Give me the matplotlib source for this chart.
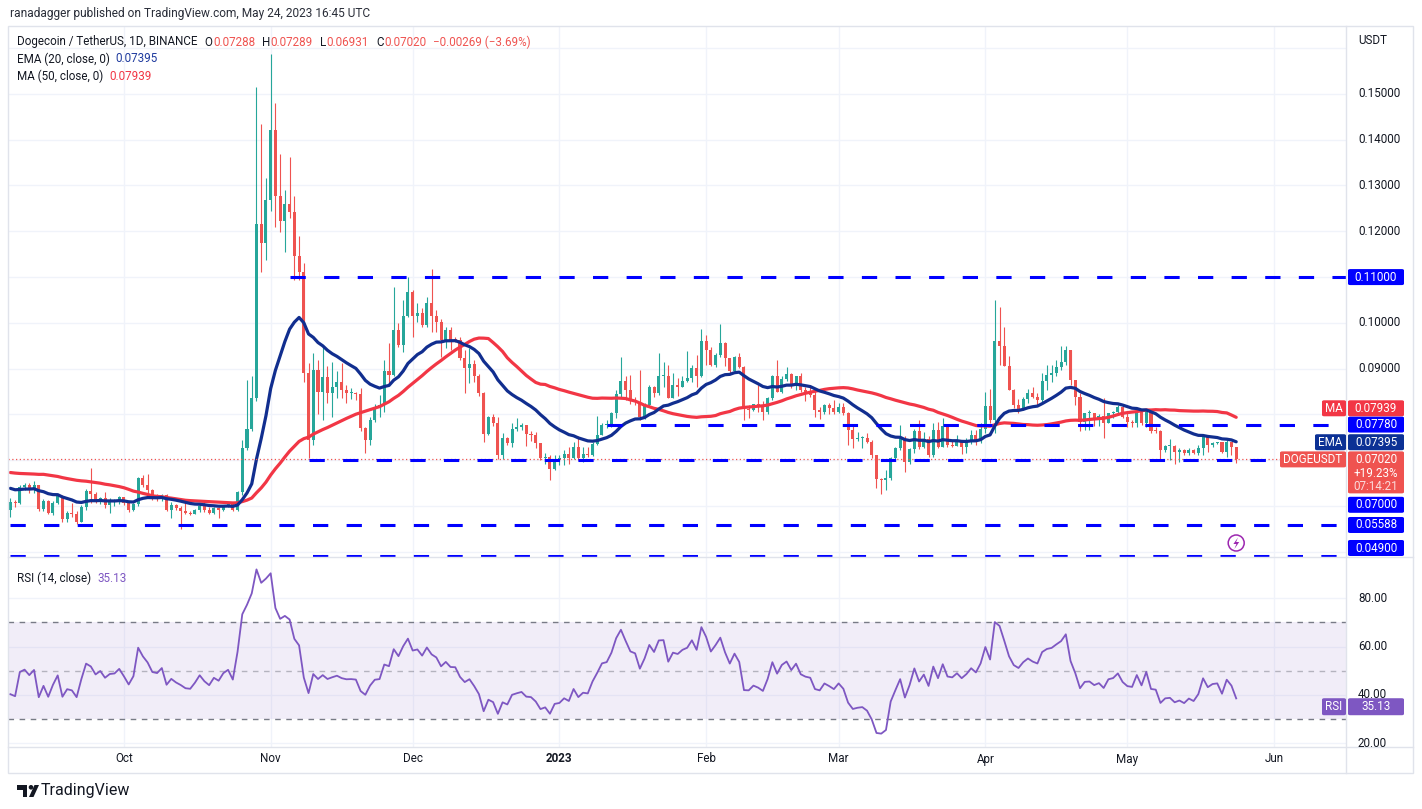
import numpy as np
import pandas as pd
import matplotlib
matplotlib.use("Agg")
import matplotlib.pyplot as plt
from matplotlib.patches import Rectangle, FancyBboxPatch, Circle, Ellipse, Polygon

# ---------------- data ----------------
warmup_start = "2022-07-19"   # history needed for EMA20 / MA50 / RSI14
warmup_close = [
    0.0637, 0.0666, 0.0683, 0.0666, 0.0660, 0.0667, 0.0627, 0.0608, 0.0663, 0.0692, 0.0693, 0.0698, 0.0689,
    0.0672, 0.0664, 0.0660, 0.0673, 0.0697, 0.0685, 0.0689, 0.0711, 0.0682, 0.0711, 0.0710, 0.0732, 0.0764,
    0.0798, 0.0765, 0.0786, 0.0754, 0.0766, 0.0680, 0.0663, 0.0674, 0.0667, 0.0674, 0.0665, 0.0665, 0.0623,
    0.0616, 0.0614, 0.0637, 0.0614, 0.0624,
    0.0626, 0.0623, 0.0621, 0.0627, 0.0619, 0.0592,
]

first_date = "2022-09-07"
close = [
    # Sep 7-30
    0.0610, 0.0606, 0.0642, 0.0646, 0.0637, 0.0645, 0.0593, 0.0611, 0.0586, 0.0606, 0.0623, 0.0572,
    0.0586, 0.0583, 0.0566, 0.0599, 0.0633, 0.0627, 0.0610, 0.0617, 0.0603, 0.0610, 0.0611, 0.0619,
    # Oct
    0.0606, 0.0591, 0.0604, 0.0661, 0.0646, 0.0635, 0.0617, 0.0615, 0.0624, 0.0592, 0.0602, 0.0595,
    0.0590, 0.0584, 0.0583, 0.0591, 0.0601, 0.0592, 0.0586, 0.0595, 0.0591, 0.0600, 0.0604, 0.0592,
    0.0630, 0.0726, 0.0768, 0.0837, 0.1216, 0.1175, 0.1268,
    # Nov
    0.1421, 0.1276, 0.1223, 0.1260, 0.1243, 0.1146, 0.1110, 0.0890, 0.0744, 0.0897, 0.0850, 0.0882,
    0.0848, 0.0861, 0.0872, 0.0854, 0.0846, 0.0847, 0.0844, 0.0770, 0.0744, 0.0788, 0.0817, 0.0820,
    0.0894, 0.0886, 0.0984, 0.0952, 0.1015, 0.1068,
    # Dec
    0.1015, 0.1022, 0.0995, 0.1043, 0.1014, 0.1001, 0.0963, 0.0984, 0.0963, 0.0962, 0.0923, 0.0901,
    0.0911, 0.0883, 0.0848, 0.0757, 0.0794, 0.0781, 0.0712, 0.0749, 0.0737, 0.0768, 0.0773, 0.0777,
    0.0757, 0.0755, 0.0737, 0.0704, 0.0708, 0.0680, 0.0702,
    # Jan
    0.0704, 0.0714, 0.0705, 0.0730, 0.0705, 0.0714, 0.0712, 0.0736, 0.0755, 0.0777, 0.0780, 0.0803,
    0.0845, 0.0874, 0.0853, 0.0832, 0.0828, 0.0795, 0.0821, 0.0861, 0.0846, 0.0883, 0.0884, 0.0837,
    0.0864, 0.0861, 0.0873, 0.0879, 0.0901, 0.0883, 0.0961,
    # Feb
    0.0941, 0.0908, 0.0930, 0.0957, 0.0923, 0.0894, 0.0926, 0.0904, 0.0811, 0.0810, 0.0823, 0.0816,
    0.0805, 0.0835, 0.0884, 0.0850, 0.0877, 0.0888, 0.0864, 0.0883, 0.0853, 0.0846, 0.0843, 0.0810,
    0.0806, 0.0821, 0.0814, 0.0806,
    # Mar
    0.0817, 0.0804, 0.0766, 0.0746, 0.0748, 0.0749, 0.0739, 0.0712, 0.0659, 0.0656, 0.0661, 0.0705,
    0.0726, 0.0748, 0.0697, 0.0724, 0.0765, 0.0728, 0.0746, 0.0712, 0.0766, 0.0730, 0.0774, 0.0734,
    0.0731, 0.0743, 0.0728, 0.0739, 0.0755, 0.0744, 0.0768,
    # Apr
    0.0819, 0.0788, 0.0961, 0.0950, 0.0906, 0.0854, 0.0821, 0.0810, 0.0833, 0.0848, 0.0838, 0.0832,
    0.0874, 0.0886, 0.0890, 0.0903, 0.0915, 0.0941, 0.0875, 0.0838, 0.0784, 0.0803, 0.0804, 0.0792,
    0.0797, 0.0782, 0.0803, 0.0806, 0.0817, 0.0795,
    # May 1-24
    0.0784, 0.0782, 0.0806, 0.0781, 0.0810, 0.0765, 0.0763, 0.0722, 0.0731, 0.0732, 0.0719, 0.0722,
    0.0715, 0.0722, 0.0716, 0.0726, 0.0751, 0.0733, 0.0738, 0.0739, 0.0719, 0.0740, 0.07288, 0.07020,
]
high = [
    0.0617, 0.0613, 0.0646, 0.0650, 0.0650, 0.0655, 0.0647, 0.0615, 0.0613, 0.0612, 0.0626, 0.0625,
    0.0590, 0.0607, 0.0590, 0.0603, 0.0637, 0.0684, 0.0630, 0.0620, 0.0630, 0.0617, 0.0615, 0.0622,
    0.0620, 0.0607, 0.0607, 0.0664, 0.0668, 0.0670, 0.0637, 0.0626, 0.0626, 0.0626, 0.0609, 0.0604,
    0.0600, 0.0613, 0.0590, 0.0593, 0.0604, 0.0608, 0.0597, 0.0598, 0.0597, 0.0602, 0.0608, 0.0607,
    0.0633, 0.0744, 0.0875, 0.0883, 0.1514, 0.1434, 0.1317,
    0.1588, 0.1481, 0.1369, 0.1290, 0.1362, 0.1277, 0.1189, 0.1130, 0.0912, 0.0934, 0.0918, 0.0952,
    0.0905, 0.0915, 0.0895, 0.0912, 0.0865, 0.0857, 0.0850, 0.0857, 0.0773, 0.0795, 0.0824, 0.0843,
    0.0919, 0.0955, 0.1079, 0.0999, 0.1050, 0.1101,
    0.1072, 0.1043, 0.1032, 0.1057, 0.1117, 0.1028, 0.1008, 0.0992, 0.0992, 0.0970, 0.0970, 0.0941,
    0.0945, 0.0920, 0.0888, 0.0850, 0.0796, 0.0801, 0.0795, 0.0759, 0.0751, 0.0781, 0.0792, 0.0781,
    0.0777, 0.0763, 0.0761, 0.0738, 0.0717, 0.0711, 0.0712,
    0.0712, 0.0723, 0.0728, 0.0741, 0.0752, 0.0730, 0.0730, 0.0741, 0.0797, 0.0781, 0.0788, 0.0806,
    0.0853, 0.0926, 0.0883, 0.0886, 0.0839, 0.0897, 0.0825, 0.0865, 0.0862, 0.0934, 0.0915, 0.0908,
    0.0890, 0.0879, 0.0883, 0.0939, 0.0908, 0.0930, 0.0987,
    0.0974, 0.0948, 0.0934, 0.0998, 0.0959, 0.0919, 0.0928, 0.0934, 0.0905, 0.0821, 0.0824, 0.0865,
    0.0830, 0.0839, 0.0886, 0.0919, 0.0883, 0.0903, 0.0890, 0.0885, 0.0890, 0.0861, 0.0865, 0.0854,
    0.0817, 0.0823, 0.0825, 0.0832,
    0.0825, 0.0825, 0.0806, 0.0775, 0.0762, 0.0752, 0.0759, 0.0744, 0.0712, 0.0661, 0.0679, 0.0708,
    0.0730, 0.0777, 0.0752, 0.0726, 0.0768, 0.0788, 0.0762, 0.0752, 0.0781, 0.0784, 0.0792, 0.0777,
    0.0745, 0.0755, 0.0744, 0.0748, 0.0766, 0.0766, 0.0781,
    0.0850, 0.0855, 0.1050, 0.1035, 0.0992, 0.0928, 0.0855, 0.0834, 0.0839, 0.0855, 0.0861, 0.0846,
    0.0890, 0.0908, 0.0908, 0.0918, 0.0950, 0.0950, 0.0941, 0.0876, 0.0846, 0.0804, 0.0810, 0.0803,
    0.0800, 0.0835, 0.0804, 0.0808, 0.0821, 0.0820,
    0.0803, 0.0789, 0.0810, 0.0810, 0.0813, 0.0810, 0.0773, 0.0766, 0.0733, 0.0746, 0.0733, 0.0726,
    0.0724, 0.0726, 0.0724, 0.0733, 0.0755, 0.0752, 0.0741, 0.0741, 0.0740, 0.0744, 0.0741, 0.07289,
]
low = [
    0.0577, 0.0599, 0.0604, 0.0636, 0.0628, 0.0628, 0.0590, 0.0590, 0.0583, 0.0580, 0.0604, 0.0566,
    0.0566, 0.0577, 0.0562, 0.0566, 0.0592, 0.0606, 0.0606, 0.0605, 0.0595, 0.0586, 0.0600, 0.0605,
    0.0602, 0.0588, 0.0590, 0.0600, 0.0642, 0.0624, 0.0613, 0.0612, 0.0612, 0.0590, 0.0573, 0.0592,
    0.0551, 0.0582, 0.0581, 0.0582, 0.0588, 0.0588, 0.0583, 0.0583, 0.0573, 0.0590, 0.0598, 0.0589,
    0.0590, 0.0625, 0.0722, 0.0765, 0.0830, 0.1112, 0.1137,
    0.1245, 0.1210, 0.1199, 0.1155, 0.1230, 0.1094, 0.1094, 0.0870, 0.0706, 0.0734, 0.0800, 0.0788,
    0.0825, 0.0794, 0.0835, 0.0835, 0.0825, 0.0833, 0.0831, 0.0765, 0.0715, 0.0733, 0.0784, 0.0795,
    0.0806, 0.0865, 0.0883, 0.0948, 0.0937, 0.1013,
    0.0970, 0.1003, 0.0991, 0.0992, 0.0981, 0.0981, 0.0926, 0.0945, 0.0941, 0.0958, 0.0919, 0.0846,
    0.0868, 0.0872, 0.0840, 0.0741, 0.0755, 0.0774, 0.0702, 0.0703, 0.0734, 0.0730, 0.0763, 0.0766,
    0.0731, 0.0743, 0.0726, 0.0701, 0.0692, 0.0658, 0.0679,
    0.0690, 0.0690, 0.0693, 0.0702, 0.0701, 0.0697, 0.0708, 0.0710, 0.0734, 0.0755, 0.0770, 0.0773,
    0.0792, 0.0838, 0.0832, 0.0824, 0.0821, 0.0788, 0.0791, 0.0817, 0.0838, 0.0843, 0.0861, 0.0835,
    0.0835, 0.0840, 0.0859, 0.0870, 0.0872, 0.0861, 0.0882,
    0.0908, 0.0905, 0.0904, 0.0926, 0.0905, 0.0889, 0.0890, 0.0901, 0.0789, 0.0792, 0.0807, 0.0806,
    0.0788, 0.0802, 0.0831, 0.0850, 0.0847, 0.0874, 0.0857, 0.0854, 0.0850, 0.0830, 0.0839, 0.0795,
    0.0790, 0.0801, 0.0800, 0.0800,
    0.0803, 0.0799, 0.0734, 0.0726, 0.0743, 0.0726, 0.0737, 0.0704, 0.0639, 0.0627, 0.0635, 0.0657,
    0.0701, 0.0723, 0.0675, 0.0693, 0.0715, 0.0724, 0.0726, 0.0708, 0.0708, 0.0726, 0.0730, 0.0730,
    0.0728, 0.0734, 0.0714, 0.0715, 0.0736, 0.0734, 0.0737,
    0.0760, 0.0781, 0.0759, 0.0908, 0.0905, 0.0854, 0.0814, 0.0804, 0.0810, 0.0825, 0.0835, 0.0821,
    0.0828, 0.0854, 0.0872, 0.0883, 0.0897, 0.0908, 0.0865, 0.0821, 0.0763, 0.0766, 0.0766, 0.0774,
    0.0774, 0.0748, 0.0785, 0.0792, 0.0798, 0.0792,
    0.0773, 0.0773, 0.0772, 0.0777, 0.0773, 0.0759, 0.0759, 0.0701, 0.0719, 0.0700, 0.0693, 0.0697,
    0.0712, 0.0712, 0.0713, 0.0712, 0.0712, 0.0719, 0.0730, 0.0735, 0.0715, 0.0708, 0.0712, 0.06931,
]

# horizontal levels drawn by the author
level_values = [0.11, 0.0778, 0.07, 0.05588, 0.049]
level_starts = ["2022-11-05", "2023-01-11", "2022-11-09", "2022-09-07", "2022-09-07"]
level_labels = ["0.11000", "0.07780", "0.07000", "0.05588", "0.04900"]

month_ticks = ["2022-10-01", "2022-11-01", "2022-12-01", "2023-01-01", "2023-02-01",
               "2023-03-01", "2023-04-01", "2023-05-01", "2023-06-01"]
month_labels = ["Oct", "Nov", "Dec", "2023", "Feb", "Mar", "Apr", "May", "Jun"]

price_tick_values = [0.09, 0.10, 0.12, 0.13, 0.14, 0.15]
rsi_tick_values = [80, 60, 40, 20]

last_ema_text, last_ma_text, last_rsi_text = "0.07395", "0.07939", "35.13"
ohlc_text = [("O", "0.07288"), ("H", "0.07289"), ("L", "0.06931"), ("C", "0.07020")]
change_text = "\u22120.00269 (\u22123.69%)"

# ---------------- computations ----------------
allc = np.array(warmup_close + close)
nw = len(warmup_close)
opens_all = np.r_[allc[0], allc[:-1]]
o = opens_all[nw:]
c = np.array(close)
h = np.maximum(np.array(high), np.maximum(o, c))
l = np.minimum(np.array(low), np.minimum(o, c))
n = len(c)
d0 = pd.Timestamp(first_date)
xs = np.arange(n)

ema = pd.Series(allc).ewm(span=20, adjust=False).mean().values[nw:]
ma = pd.Series(allc).rolling(50, min_periods=1).mean().values[nw:]
dlt = np.diff(allc, prepend=allc[0])
gain = pd.Series(np.clip(dlt, 0, None)).ewm(alpha=1 / 14, adjust=False).mean()
loss = pd.Series(np.clip(-dlt, 0, None)).ewm(alpha=1 / 14, adjust=False).mean()
rsi = (100 - 100 / (1 + gain / loss)).values[nw:]

def didx(s):
    return (pd.Timestamp(s) - d0).days

# ---------------- figure ----------------
W, H = 1422, 809
plt.rcParams['font.family'] = ['Roboto', 'DejaVu Sans']
fig = plt.figure(figsize=(W / 100, H / 100), dpi=100)
fig.patch.set_facecolor("white")
R = fig.canvas.get_renderer()

def rect(x0, y0, x1, y1):
    return [x0 / W, 1 - y1 / H, (x1 - x0) / W, (y1 - y0) / H]

PL, PR = 8, 1346
PT, PB = 26, 556.5
RT, RB = 556.5, 747
BOT = 773

ax = fig.add_axes(rect(PL, PT, PR, PB))
axr = fig.add_axes(rect(PL, RT, PR, RB))
for a in (ax, axr):
    a.set_xlim(-0.5, 282.2)
    for sp in a.spines.values():
        sp.set_visible(False)
    a.set_xticks([]); a.set_yticks([])
    a.patch.set_alpha(0)
ax.set_ylim(0.0490, 0.16481)
axr.set_ylim(18.47, 97.27)

GRID = "#f0f3fa"
for v in np.arange(0.05, 0.1651, 0.01):
    ax.axhline(v, color=GRID, lw=1, zorder=0)
for v in rsi_tick_values:
    axr.axhline(v, color=GRID, lw=1, zorder=0)
for m in month_ticks:
    ax.axvline(didx(m), color=GRID, lw=1, zorder=0)
    axr.axvline(didx(m), color=GRID, lw=1, zorder=0)

# candles
UP, DN = "#26a69a", "#ef5350"
col = np.where(c >= o, UP, DN)
ax.vlines(xs, l, h, colors=col, lw=0.8, zorder=3)
ax.bar(xs, np.maximum(np.abs(c - o), 0.00022), bottom=np.minimum(o, c), width=0.64,
       color=col, linewidth=0, zorder=3)

# moving averages
EMA_C, MA_C = "#112e8f", "#f23645"
ax.plot(xs, ma, color=MA_C, lw=2.3, zorder=4, solid_capstyle="round")
ax.plot(xs, ema, color=EMA_C, lw=2.3, zorder=4, solid_capstyle="round")

# current price dotted line
ax.axhline(c[-1], color=DN, lw=0.9, ls=(0, (1, 2)), zorder=5)

# author's levels
LVL = "#0000ff"
for v, s in zip(level_values, level_starts):
    ax.hlines(v, didx(s), 282.2, color=LVL, lw=2.2, linestyles=(0, (5, 6)), zorder=6)

# RSI pane
RSI_C = "#7e57c2"
axr.axhspan(30, 70, color=RSI_C, alpha=0.1, lw=0, zorder=0)
axr.axhline(70, color="#787b86", lw=1, ls=(0, (4, 4)), zorder=1)
axr.axhline(30, color="#787b86", lw=1, ls=(0, (4, 4)), zorder=1)
axr.axhline(50, color="#787b86", alpha=0.5, lw=1, ls=(0, (4, 4)), zorder=1)
axr.plot(xs, rsi, color=RSI_C, lw=1.3, zorder=3)

# ---------------- frame ----------------
BORDER = "#e0e3eb"
fig.patches.append(Rectangle((PL / W, 1 - BOT / H), (1413 - PL) / W, (BOT - PT) / H, fill=False,
                             ec=BORDER, lw=1, transform=fig.transFigure, zorder=2))
fig.lines.append(plt.Line2D([PR / W, PR / W], [1 - PT / H, 1 - BOT / H], color=BORDER, lw=1,
                            transform=fig.transFigure))
for yy in (PB, RB):
    fig.lines.append(plt.Line2D([PL / W, 1413 / W], [1 - yy / H, 1 - yy / H], color=BORDER, lw=1,
                                transform=fig.transFigure))

# ---------------- helpers ----------------
TXT = "#131722"

def twidth(s, fs, weight="normal"):
    t = fig.text(0, 0, s, fontsize=fs, weight=weight)
    w = t.get_window_extent(R).width
    t.remove()
    return w

def fit_fs(s, width_px, weight="normal"):
    return 10 * width_px / twidth(s, 10, weight)

def put(xp, yp, s, fs, color=TXT, ha="left", weight="normal", z=7):
    return fig.text(xp / W, 1 - yp / H, s, fontsize=fs, color=color, ha=ha, va="center",
                    weight=weight, zorder=z)

def seq(xp, yp, pieces, fs):
    for s, colr, gap in pieces:
        t = put(xp, yp, s, fs, colr)
        xp += t.get_window_extent(R).width + gap
    return xp

def box(x0, x1, yc, hh, color, z=6):
    fig.patches.append(FancyBboxPatch((x0 / W, 1 - (yc + hh / 2) / H), (x1 - x0) / W, hh / H,
                                      boxstyle="round,pad=0,rounding_size=0.0016",
                                      transform=fig.transFigure, fc=color, ec="none", zorder=z))

def py(a, v):
    return H - a.transData.transform((0, v))[1]

def px(a, xv):
    return a.transData.transform((xv, 0))[0]

# ---------------- header / legends ----------------
fs_head = fit_fs("ranadagger published on TradingView.com, May 24, 2023 16:45 UTC", 362)
put(10, 14, "ranadagger published on TradingView.com, May 24, 2023 16:45 UTC", fs_head, "#2a2e39")

fs_leg = fit_fs("Dogecoin / TetherUS, 1D, BINANCE", 181)
pieces = [("Dogecoin / TetherUS, 1D, BINANCE", TXT, 7)]
for k, v in ohlc_text:
    pieces += [(k, TXT, 0.5), (v, DN, 7)]
pieces += [(change_text, DN, 0)]
seq(17, 42, pieces, fs_leg)
seq(17, 59, [("EMA (20, close, 0)", TXT, 6), (last_ema_text, "#1e3a9e", 0)], fs_leg)
seq(17, 76, [("MA (50, close, 0)", TXT, 6), (last_ma_text, MA_C, 0)], fs_leg)
seq(17, 578, [("RSI (14, close)", TXT, 6), (last_rsi_text, RSI_C, 0)], fs_leg)

# ---------------- right price scale ----------------
fs_ax = fit_fs("0.15000", 42)
put(1358, 40, "USDT", fs_ax)
for v in price_tick_values:
    put(1358, py(ax, v), f"{v:.5f}", fs_ax)
for v in rsi_tick_values:
    put(1358, py(axr, v), f"{v:.2f}", fs_ax)

BX0, BX1 = 1348, 1404
label_shift = {"0.07000": 44.5, "0.04900": -8.5}
for v, lab in zip(level_values, level_labels):
    yc = py(ax, v) + label_shift.get(lab, 0)
    box(BX0, BX1, yc, 16, LVL)
    put((BX0 + BX1) / 2, yc, lab, fs_ax, "white", ha="center")

# MA label (shifted up to avoid overlap)
yma = py(ax, float(last_ma_text)) - 9
box(1322, 1346, yma, 16, MA_C)
put(1334, yma, "MA", fs_ax, "white", ha="center")
box(BX0, BX1, yma, 16, MA_C)
put((BX0 + BX1) / 2, yma, last_ma_text, fs_ax, "white", ha="center")

# EMA label
yem = py(ax, float(last_ema_text))
box(1315, 1346, yem, 16, "#0c3195")
put(1330.5, yem, "EMA", fs_ax, "white", ha="center")
box(BX0, BX1, yem, 16, "#0c3195")
put((BX0 + BX1) / 2, yem, last_ema_text, fs_ax, "white", ha="center")

# last price label
ylp = py(ax, c[-1])
box(1280, 1346, ylp, 16, "#ef5350")
put(1313, ylp, "DOGEUSDT", fs_ax, "white", ha="center")
fig.patches.append(FancyBboxPatch((BX0 / W, 1 - (ylp + 34) / H), (BX1 - BX0) / W, 42 / H,
                                  boxstyle="round,pad=0,rounding_size=0.0016",
                                  transform=fig.transFigure, fc="#ef5350", ec="none", zorder=6))
put((BX0 + BX1) / 2, ylp, f"{c[-1]:.5f}", fs_ax, "white", ha="center")
put((BX0 + BX1) / 2, ylp + 14.5, "+19.23%", fs_ax, "white", ha="center")
put((BX0 + BX1) / 2, ylp + 27, "07:14:21", fs_ax, "#fbdada", ha="center")

# RSI label
yr = py(axr, float(last_rsi_text))
box(1322, 1346, yr, 17, RSI_C)
put(1334, yr, "RSI", fs_ax, "white", ha="center")
box(BX0, BX1, yr, 17, RSI_C)
put((BX0 + BX1) / 2, yr, last_rsi_text, fs_ax, "white", ha="center")

# ---------------- time axis ----------------
for m, lab in zip(month_ticks, month_labels):
    put(px(axr, didx(m)), 759, lab, fs_ax, TXT, ha="center",
        weight="bold" if lab == "2023" else "normal")

# lightning marker near last bar
xe = px(ax, xs[-1])
fig.patches.append(Ellipse((xe / W, 1 - 543 / H), 16 / W, 16 / H, transform=fig.transFigure,
                           fill=False, ec="#9c27b0", lw=1.1, zorder=7))
bolt = [(xe + 1.8, 537.5), (xe - 2.8, 544), (xe + 0.2, 544), (xe - 1.8, 549), (xe + 3.0, 542),
        (xe - 0.1, 542)]
fig.patches.append(Polygon([(bx / W, 1 - by / H) for bx, by in bolt], closed=True,
                           transform=fig.transFigure, fc="#9c27b0", ec="none", zorder=7))

# ---------------- TradingView logo ----------------
logo = "#131722"
fig.patches.append(Rectangle((17 / W, 1 - 789.5 / H), 10 / W, 4.5 / H, transform=fig.transFigure,
                             fc=logo, ec="none"))
fig.patches.append(Rectangle((22.5 / W, 1 - 797 / H), 4.5 / W, 12 / H, transform=fig.transFigure,
                             fc=logo, ec="none"))
fig.patches.append(Ellipse((31 / W, 1 - 787.3 / H), 4.6 / W, 4.6 / H, transform=fig.transFigure,
                           fc=logo, ec="none"))
fig.patches.append(Polygon([(29 / W, 1 - 797 / H), (34.5 / W, 1 - 785 / H), (39 / W, 1 - 785 / H),
                            (33.5 / W, 1 - 797 / H)], closed=True, transform=fig.transFigure,
                           fc=logo, ec="none"))
put(41, 791, "TradingView", fit_fs("TradingView", 89), logo)

fig.savefig("out.png", dpi=100)
